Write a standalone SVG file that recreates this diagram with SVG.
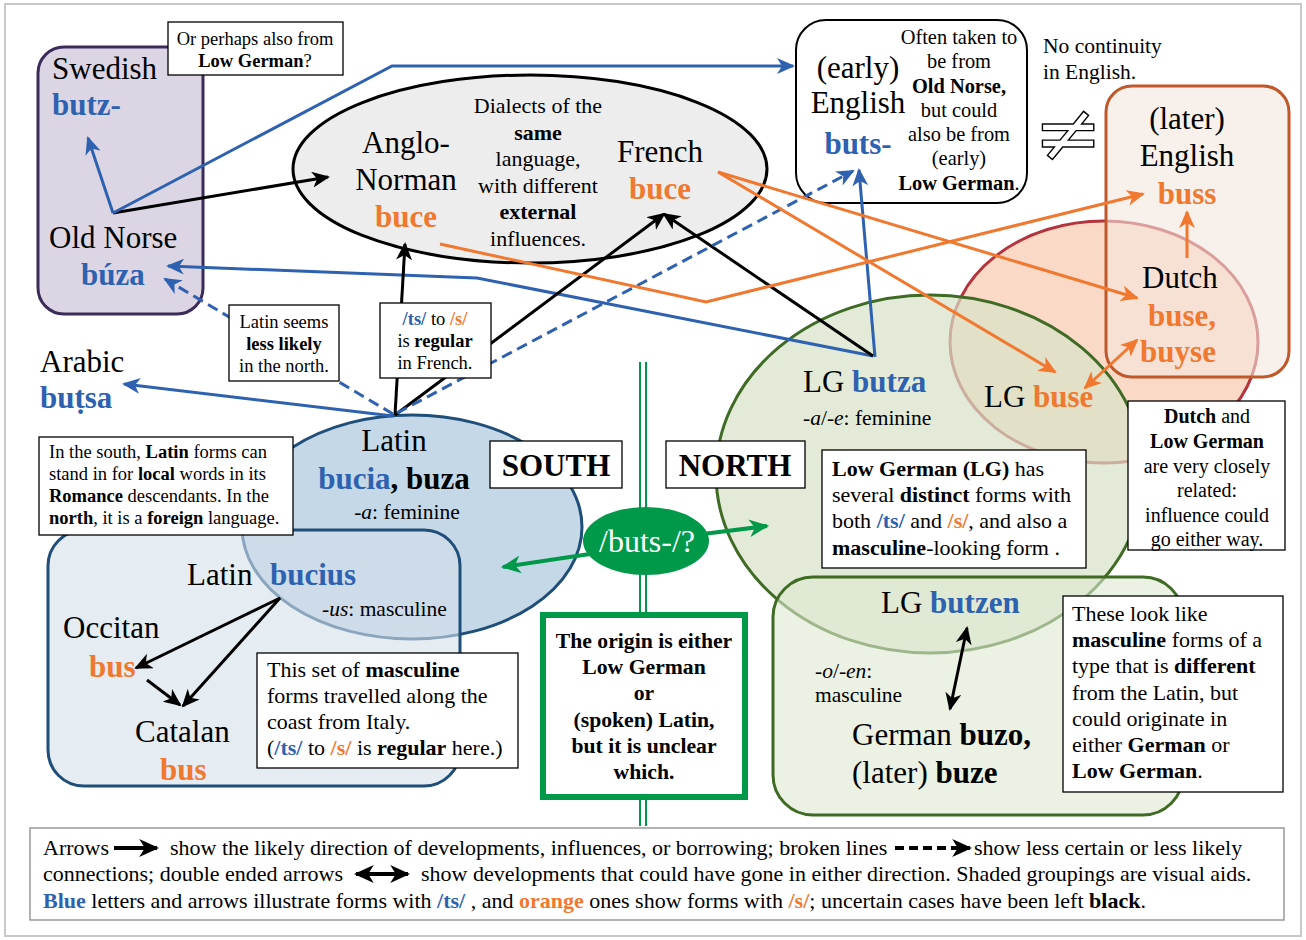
<svg xmlns="http://www.w3.org/2000/svg" width="1306" height="940" viewBox="0 0 1306 940">
<defs>
<style>
text{font-family:"Liberation Serif","DejaVu Serif",serif;fill:#000}
.L{font-size:31px}
.M{font-size:22px}
.N{font-size:22px}
.S{font-size:18.5px}
.b{font-weight:bold}
.i{font-style:italic}
.bl{fill:#2e62b0}
.or{fill:#f0782f}
.c{text-anchor:middle}
.box{fill:#fff;stroke:#000;stroke-width:1.3}
.ln{fill:none;stroke-width:3}
.k{stroke:#000}
.u{stroke:#2e62b0}
.o{stroke:#f0782f}
.g{fill:none;stroke:#00994a;stroke-width:4}
.d{stroke-dasharray:11 6}
</style>
<marker id="ak" viewBox="0 0 18 16" refX="16" refY="8" markerWidth="18" markerHeight="16" markerUnits="userSpaceOnUse" orient="auto-start-reverse"><path d="M0,0 L18,8 L0,16 L5,8 z" fill="#000"/></marker>
<marker id="au" viewBox="0 0 18 16" refX="16" refY="8" markerWidth="18" markerHeight="16" markerUnits="userSpaceOnUse" orient="auto-start-reverse"><path d="M0,0 L18,8 L0,16 L5,8 z" fill="#2e62b0"/></marker>
<marker id="ao" viewBox="0 0 18 16" refX="16" refY="8" markerWidth="18" markerHeight="16" markerUnits="userSpaceOnUse" orient="auto-start-reverse"><path d="M0,0 L18,8 L0,16 L5,8 z" fill="#f0782f"/></marker>
<marker id="ag" viewBox="0 0 18 16" refX="16" refY="8" markerWidth="20" markerHeight="18" markerUnits="userSpaceOnUse" orient="auto-start-reverse"><path d="M0,0 L18,8 L0,16 L5,8 z" fill="#00994a"/></marker>
<marker id="akL" viewBox="0 0 18 16" refX="16" refY="8" markerWidth="20" markerHeight="18" markerUnits="userSpaceOnUse" orient="auto-start-reverse"><path d="M0,0 L18,8 L0,16 L5,8 z" fill="#000"/></marker>
</defs>

<rect x="5" y="4" width="1296" height="932" fill="#fff" stroke="#c8c8c8" stroke-width="2"/>

<!-- shaded regions -->
<g id="region-norse">
<rect x="38" y="47" width="165" height="267" rx="26" fill="#dcd6e4" stroke="#3b2b58" stroke-width="3"/>
</g>
<g id="region-french">
<ellipse cx="530" cy="169" rx="237" ry="94" fill="#ededed" stroke="#000" stroke-width="3"/>
</g>
<g id="region-early-english">
<rect x="796" y="20" width="231" height="183" rx="30" fill="#fff" stroke="#000" stroke-width="2"/>
</g>
<g id="region-dutch">
<ellipse cx="1104" cy="342" rx="154" ry="121" fill="#fad9c7" stroke="#b3343c" stroke-width="3"/>
</g>
<g id="region-lg">
<ellipse cx="930" cy="474" rx="214" ry="179" fill="#d7e2c7" fill-opacity="0.7" stroke="#3f6b25" stroke-width="3"/>
</g>
<g id="region-butzen">
<rect x="773" y="577" width="410" height="238" rx="40" fill="#dde8d0" fill-opacity="0.6" stroke="#3f6b25" stroke-width="3"/>
</g>
<g id="region-later-english">
<rect x="1106" y="86" width="183" height="291" rx="26" fill="#f4e6dc" fill-opacity="0.6" stroke="#c0582a" stroke-width="3"/>
</g>
<g id="region-latin">
<ellipse cx="412" cy="527" rx="170" ry="112" fill="#c5d8e8" stroke="#1f4e79" stroke-width="3"/>
</g>
<g id="region-romance">
<rect x="48" y="530" width="412" height="256" rx="36" fill="#d3e0ea" fill-opacity="0.6" stroke="#1f4e79" stroke-width="3"/>
</g>

<g id="divider">
<line x1="640" y1="362" x2="640" y2="826" stroke="#00994a" stroke-width="2"/>
<line x1="646" y1="362" x2="646" y2="826" stroke="#00994a" stroke-width="2"/>
</g>

<!-- connectors -->
<g id="connectors">
<path class="ln u" d="M113,213 L88,138" marker-end="url(#au)"/>
<path class="ln k" d="M113,213 L328,177" marker-end="url(#ak)"/>
<path class="ln u" d="M113,213 L392,66 L793,66" marker-end="url(#au)"/>
<path class="ln u" d="M873,356 L477,278 L168,266" marker-end="url(#au)"/>
<path class="ln u" d="M875,357 L859,170" marker-end="url(#au)"/>
<path class="ln k" d="M873,356 L664,214" marker-end="url(#ak)"/>
<path class="ln k" d="M395,415 L405,244" marker-end="url(#ak)"/>
<path class="ln k" d="M395,415 L664,214" marker-end="url(#ak)"/>
<path class="ln u d" d="M393,414 L165,279" marker-end="url(#au)"/>
<path class="ln u" d="M393,416 L124,384" marker-end="url(#au)"/>
<path class="ln u d" d="M397,413 L853,171" marker-end="url(#au)"/>
<path class="ln o" d="M440,244 L706,302 L1143,194" marker-end="url(#ao)"/>
<path class="ln o" d="M718,172 L1137,298" marker-end="url(#ao)"/>
<path class="ln o" d="M718,172 L1055,372" marker-end="url(#ao)"/>
<path class="ln o" d="M1085,388 L1137,340" marker-start="url(#ao)" marker-end="url(#ao)"/>
<path class="ln o" d="M1187,258 L1187,212" marker-end="url(#ao)"/>
<path class="ln k" d="M280,598 L136,668" marker-end="url(#ak)"/>
<path class="ln k" d="M280,598 L183,706" marker-end="url(#ak)"/>
<path class="ln k" d="M147,680 L180,705" marker-end="url(#ak)"/>
<path class="ln k" d="M967,628 L950,709" marker-start="url(#ak)" marker-end="url(#ak)"/>
<path class="g" d="M590,554 L503,567" marker-end="url(#ag)"/>
<path class="g" d="M703,534 L767,526" marker-end="url(#ag)"/>
</g>

<!-- nodes -->
<g id="node-swedish">
<text class="L" x="52" y="79">Swedish</text>
<text class="L b bl" x="52" y="115">butz-</text>
</g>
<g id="node-old-norse">
<text class="L" x="49" y="248">Old Norse</text>
<text class="L b bl" x="81" y="285">búza</text>
</g>
<g id="note-low-german-q">
<rect class="box" x="168" y="22" width="175" height="53"/>
<text class="S c" x="255" y="45">Or perhaps also from</text>
<text class="S c" x="255" y="67"><tspan class="b">Low German</tspan>?</text>
</g>
<g id="node-anglo-norman">
<text class="L c" x="406" y="153">Anglo-</text>
<text class="L c" x="406" y="190">Norman</text>
<text class="L c b or" x="406" y="227">buce</text>
</g>
<g id="note-dialects">
<text class="N c" x="538" y="113">Dialects of the</text>
<text class="N c b" x="538" y="140">same</text>
<text class="N c" x="538" y="166">language,</text>
<text class="N c" x="538" y="193">with different</text>
<text class="N c b" x="538" y="219">external</text>
<text class="N c" x="538" y="246">influences.</text>
</g>
<g id="node-french">
<text class="L c" x="660" y="162">French</text>
<text class="L c b or" x="660" y="199">buce</text>
</g>
<g id="node-early-english">
<text class="L c" x="858" y="78">(early)</text>
<text class="L c" x="858" y="113">English</text>
<text class="L c b bl" x="858" y="154">buts-</text>
<g style="font-size:20.4px">
<text class="c" x="959" y="44">Often taken to</text>
<text class="c" x="959" y="68">be from</text>
<text class="c b" x="959" y="93">Old Norse,</text>
<text class="c" x="959" y="117">but could</text>
<text class="c" x="959" y="141">also be from</text>
<text class="c" x="959" y="165">(early)</text>
<text class="c" x="959" y="190"><tspan class="b">Low German</tspan>.</text>
</g>
</g>
<g id="note-continuity">
<text x="1043" y="53" style="font-size:21.5px">No continuity</text>
<text x="1043" y="79" style="font-size:21.5px">in English.</text>
<text x="1068" y="161" text-anchor="middle" style="font-family:'DejaVu Sans',sans-serif;font-size:82px;fill:#fff;stroke:#000;stroke-width:1.4">≠</text>
</g>
<g id="node-later-english">
<text class="L c" x="1187" y="129">(later)</text>
<text class="L c" x="1187" y="166">English</text>
<text class="L c b or" x="1187" y="204">buss</text>
</g>
<g id="node-dutch">
<text class="L c" x="1180" y="288">Dutch</text>
<text class="L c b or" x="1182" y="326">buse,</text>
<text class="L c b or" x="1178" y="362">buyse</text>
</g>
<g id="node-lg-buse">
<text class="L" x="984" y="407">LG <tspan class="b or">buse</tspan></text>
</g>
<g id="node-lg-butza">
<text class="L" x="803" y="392">LG <tspan class="b bl">butza</tspan></text>
<text class="M" x="803" y="425" style="font-size:21.5px"><tspan class="i">-a</tspan>/<tspan class="i">-e</tspan>: feminine</text>
</g>
<g id="note-dutch-lg">
<rect class="box" x="1128" y="401" width="157" height="149"/>
<g style="font-size:20px">
<text class="c" x="1207" y="423"><tspan class="b">Dutch</tspan> and</text>
<text class="c b" x="1207" y="448">Low German</text>
<text class="c" x="1207" y="473">are very closely</text>
<text class="c" x="1207" y="497">related:</text>
<text class="c" x="1207" y="522">influence could</text>
<text class="c" x="1207" y="546">go either way.</text>
</g>
</g>
<g id="note-lg">
<rect class="box" x="822" y="450" width="264" height="118"/>
<text class="M" x="832" y="476"><tspan class="b">Low German (LG)</tspan> has</text>
<text class="M" x="832" y="502">several <tspan class="b">distinct</tspan> forms with</text>
<text class="M" x="832" y="528">both <tspan class="b bl">/ts/</tspan> and <tspan class="b or">/s/</tspan>, and also a</text>
<text class="M" x="832" y="555"><tspan class="b">masculine</tspan>-looking form .</text>
</g>
<g id="label-south">
<rect class="box" x="490" y="441" width="132" height="47"/>
<text class="L c b" x="556" y="476">SOUTH</text>
</g>
<g id="label-north">
<rect class="box" x="666" y="441" width="139" height="47"/>
<text class="L c b" x="735" y="476">NORTH</text>
</g>
<g id="node-buts">
<ellipse cx="646" cy="541" rx="63" ry="34" fill="#00994a"/>
<text class="c" x="647" y="552" style="font-size:32px;fill:#fff">/buts-/?</text>
</g>
<g id="note-origin">
<rect x="543" y="615" width="202" height="182" fill="#fff" stroke="#00994a" stroke-width="6"/>
<g style="font-size:21.7px;font-weight:bold">
<text class="c" x="644" y="648">The origin is either</text>
<text class="c" x="644" y="674">Low German</text>
<text class="c" x="644" y="700">or</text>
<text class="c" x="644" y="727">(spoken) Latin,</text>
<text class="c" x="644" y="753">but it is unclear</text>
<text class="c" x="644" y="779">which.</text>
</g>
</g>
<g id="node-latin">
<text class="L c" x="394" y="451">Latin</text>
<text class="L c b" x="394" y="489"><tspan class="bl">bucia</tspan>, buza</text>
<text class="M c" x="407" y="519" style="font-size:21.5px"><tspan class="i">-a</tspan>: feminine</text>
</g>
<g id="node-latin-bucius">
<text class="L" x="187" y="585">Latin</text>
<text class="L b bl" x="270" y="585">bucius</text>
<text class="M" x="322" y="616" style="font-size:21.5px"><tspan class="i">-us</tspan>: masculine</text>
</g>
<g id="node-occitan">
<text class="L" x="63" y="638">Occitan</text>
<text class="L b or" x="89" y="677">bus</text>
</g>
<g id="node-catalan">
<text class="L" x="135" y="742">Catalan</text>
<text class="L b or" x="160" y="780">bus</text>
</g>
<g id="node-arabic">
<text class="L" x="40" y="372">Arabic</text>
<text class="L b bl" x="40" y="408">buṭsa</text>
</g>
<g id="note-latin-south">
<rect class="box" x="39" y="437" width="254" height="98"/>
<g style="font-size:18.5px">
<text x="49" y="458">In the south, <tspan class="b">Latin</tspan> forms can</text>
<text x="49" y="480">stand in for <tspan class="b">local</tspan> words in its</text>
<text x="49" y="502"><tspan class="b">Romance</tspan> descendants. In the</text>
<text x="49" y="524"><tspan class="b">north</tspan>, it is a <tspan class="b">foreign</tspan> language.</text>
</g>
</g>
<g id="note-masculine-coast">
<rect class="box" x="257" y="653" width="261" height="115"/>
<text class="M" x="267" y="677">This set of <tspan class="b">masculine</tspan></text>
<text class="M" x="267" y="703">forms travelled along the</text>
<text class="M" x="267" y="729">coast from Italy.</text>
<text class="M" x="267" y="755">(<tspan class="b bl">/ts/</tspan> to <tspan class="b or">/s/</tspan> is <tspan class="b">regular</tspan> here.)</text>
</g>
<g id="node-lg-butzen">
<text class="L" x="881" y="613">LG <tspan class="b bl">butzen</tspan></text>
<text class="M" x="815" y="678" style="font-size:21.5px"><tspan class="i">-o</tspan>/<tspan class="i">-en</tspan>:</text>
<text class="M" x="815" y="702" style="font-size:21.5px">masculine</text>
</g>
<g id="node-german">
<text class="L" x="852" y="745">German <tspan class="b">buzo,</tspan></text>
<text class="L" x="852" y="783">(later) <tspan class="b">buze</tspan></text>
</g>
<g id="note-masculine-type">
<rect class="box" x="1063" y="596" width="220" height="196"/>
<text class="M" x="1072" y="621">These look like</text>
<text class="M" x="1072" y="647"><tspan class="b">masculine</tspan> forms of a</text>
<text class="M" x="1072" y="673">type that is <tspan class="b">different</tspan></text>
<text class="M" x="1072" y="700">from the Latin, but</text>
<text class="M" x="1072" y="726">could originate in</text>
<text class="M" x="1072" y="752">either <tspan class="b">German</tspan> or</text>
<text class="M" x="1072" y="778"><tspan class="b">Low German</tspan>.</text>
</g>
<g id="note-latin-north">
<rect class="box" x="229" y="305" width="110" height="76"/>
<text class="S c" x="284" y="328">Latin seems</text>
<text class="S c b" x="284" y="350">less likely</text>
<text class="S c" x="284" y="372">in the north.</text>
</g>
<g id="note-french-regular">
<rect class="box" x="380" y="303" width="111" height="75"/>
<text class="S c" x="435" y="325"><tspan class="b bl">/ts/</tspan> to <tspan class="b or">/s/</tspan></text>
<text class="S c" x="435" y="347">is <tspan class="b">regular</tspan></text>
<text class="S c" x="435" y="369">in French.</text>
</g>

<!-- legend -->
<g id="legend">
<rect x="30" y="828" width="1254" height="92" fill="#fff" stroke="#999" stroke-width="1.5"/>
<g style="font-size:22px">
<text x="43" y="855">Arrows</text>
<text x="170" y="855">show the likely direction of developments, influences, or borrowing; broken lines</text>
<text x="974" y="855">show less certain or less likely</text>
<text x="43" y="881">connections; double ended arrows</text>
<text x="421" y="881">show developments that could have gone in either direction. Shaded groupings are visual aids.</text>
<text x="43" y="908"><tspan class="b bl">Blue</tspan> letters and arrows illustrate forms with <tspan class="b bl">/ts/</tspan> , and <tspan class="b or">orange</tspan> ones show forms with <tspan class="b or">/s/</tspan>; uncertain cases have been left <tspan class="b">black</tspan>.</text>
</g>
<path d="M114,848 L157,848" stroke="#000" stroke-width="4" fill="none" marker-end="url(#akL)"/>
<path d="M895,848 L970,848" stroke="#000" stroke-width="4" stroke-dasharray="9 5" fill="none" marker-end="url(#akL)"/>
<path d="M356,874 L408,874" stroke="#000" stroke-width="4" fill="none" marker-start="url(#akL)" marker-end="url(#akL)"/>
</g>
</svg>
